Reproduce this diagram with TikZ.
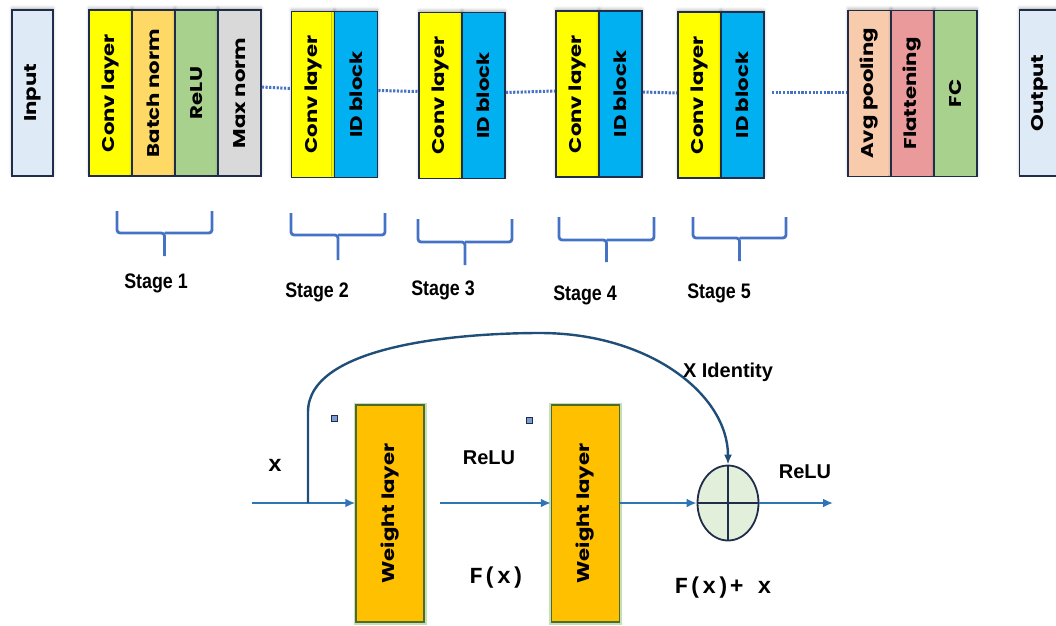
\documentclass[tikz,border=0pt]{standalone}
\usepackage{fontspec}
\usetikzlibrary{arrows.meta,shapes.geometric,shadows.blur,calc}

\newfontfamily\boxfont[FakeStretch=1.25]{Poppins}
\newfontfamily\labelfont{Liberation Sans}
\newfontfamily\narrowfont[FakeStretch=0.85]{Liberation Sans}
\newfontfamily\codefont{Liberation Mono}

\definecolor{inbox}{HTML}{DEEBF7}
\definecolor{convY}{HTML}{FFFF00}
\definecolor{bnorm}{HTML}{FFD966}
\definecolor{reluG}{HTML}{A9D18E}
\definecolor{maxn}{HTML}{D9D9D9}
\definecolor{idb}{HTML}{00B0F0}
\definecolor{avgp}{HTML}{F8CBAD}
\definecolor{flat}{HTML}{EA9A9A}
\definecolor{edge}{HTML}{1F2D4A}
\definecolor{wlayer}{HTML}{FFC000}
\definecolor{wedge}{HTML}{4E6B2E}
\definecolor{wglow}{HTML}{C5E0B4}
\definecolor{arrowblue}{HTML}{2E75B6}
\definecolor{curveblue}{HTML}{1F4E79}
\definecolor{braceblue}{HTML}{4472C4}
\definecolor{sumfill}{HTML}{E2EFDA}

\tikzset{
  layer/.style={draw=edge, line width=1.6pt, rotate=90,
    minimum width=166pt, minimum height=43pt, inner sep=0pt,
    font=\boxfont\bfseries\fontsize{17}{17}\selectfont,
    blur shadow={shadow xshift=0pt, shadow yshift=2pt,
      shadow blur radius=3pt, shadow opacity=30}},
  endbox/.style={layer, minimum height=41pt},
  weight/.style={fill=wlayer, draw=wedge, line width=1.5pt, rotate=90,
    minimum width=217pt, minimum height=68pt, inner sep=0pt,
    preaction={draw=wglow, line width=5pt},
    font=\boxfont\bfseries\fontsize{17}{17}\selectfont},
  stagelabel/.style={font=\narrowfont\bfseries\fontsize{21}{21}\selectfont},
  plainlabel/.style={font=\labelfont\bfseries\fontsize{20}{20}\selectfont},
  codelabel/.style={font=\codefont\bfseries\fontsize{23}{23}\selectfont},
  link/.style={braceblue, line width=3pt, dash pattern=on 2.2pt off 1.5pt},
  stagebrace/.style={braceblue, line width=2.8pt, rounded corners=3pt},
  flow/.style={arrowblue, line width=2.6pt, -{Latex[length=10pt,width=9pt]}},
  skip/.style={curveblue, line width=2.4pt, -{Latex[length=10pt,width=8pt]}},
  marker/.style={draw=edge, fill=braceblue!70, minimum size=6pt, inner sep=0pt, line width=1pt},
}

\begin{document}
\begin{tikzpicture}[x=1pt,y=-1pt]
\useasboundingbox (0,0) rectangle (1056,625);

% ---- network pipeline ----
\node[endbox, fill=inbox] (input) at (32.5,93) {Input};

\node[layer, fill=convY] (conv1) at (110.5,93) {Conv layer};
\node[layer, fill=bnorm] (bn1)   at (153.5,93) {Batch norm};
\node[layer, fill=reluG] (relu1) at (196.5,93) {ReLU};
\node[layer, fill=maxn]  (max1)  at (239.5,93) {Max norm};

\node[layer, fill=convY] (conv2) at (313,94.5) {Conv layer};
\node[layer, fill=idb]   (id2)   at (356,94.5) {ID block};

\node[layer, fill=convY] (conv3) at (440.5,95.5) {Conv layer};
\node[layer, fill=idb]   (id3)   at (483.5,95.5) {ID block};

\node[layer, fill=convY] (conv4) at (577.5,94) {Conv layer};
\node[layer, fill=idb]   (id4)   at (620.5,94) {ID block};

\node[layer, fill=convY] (conv5) at (699.5,95) {Conv layer};
\node[layer, fill=idb]   (id5)   at (742.5,95) {ID block};

\node[layer, fill=avgp]  (avg)   at (869.5,93.5) {Avg pooling};
\node[layer, fill=flat]  (flat)  at (912.5,93.5) {Flattening};
\node[layer, fill=reluG] (fc)    at (955.5,93.5) {FC};

\node[endbox, fill=inbox] (output) at (1040,93) {Output};

% dotted links between stages (south = right side, north = left side)
\draw[link] ([yshift=6pt]max1.south) -- ([yshift=6pt]conv2.north);
\draw[link] ([yshift=4pt]id2.south)  -- ([yshift=4pt]conv3.north);
\draw[link] ([yshift=3pt]id3.south)  -- ([yshift=3pt]conv4.north);
\draw[link] ([yshift=2pt]id4.south)  -- ([yshift=2pt]conv5.north);
\draw[link] ([yshift=3pt,xshift=7pt]id5.south) -- ([yshift=1.5pt]avg.north);

% stage braces
\foreach \l/\r/\t/\h/\b in {117/212/211/233/256, 291/385/213/235/260,
    418/512/219/242/265, 559/654/217/240/262, 693/786/217/238/261}{
  \draw[stagebrace] (\l,\t) -- (\l,\h) -- ({(\l+\r)/2},\h) -- ({(\l+\r)/2},\b);
  \draw[stagebrace] (\r,\t) -- (\r,\h) -- ({(\l+\r)/2},\h);
}
\node[stagelabel] (s1) at (156,283) {Stage 1};
\node[stagelabel] (s2) at (317,292) {Stage 2};
\node[stagelabel] (s3) at (443,290) {Stage 3};
\node[stagelabel] (s4) at (585,295) {Stage 4};
\node[stagelabel] (s5) at (719,293) {Stage 5};

% ---- residual block ----
\coordinate (in) at (252,503);
\coordinate (br) at (308,503);
\coordinate (out) at (833,503);

\node[weight] (w1) at (390,513.5) {Weight layer};
\node[weight] (w2) at (585.5,513.5) {Weight layer};
\node[ellipse, draw=edge, fill=sumfill, line width=1.8pt,
      minimum width=61pt, minimum height=75pt, inner sep=0pt] (sum) at (728,503) {};
\draw[edge, line width=1.8pt] (sum.north) -- (sum.south) (sum.west) -- (sum.east);

\node[marker] (m1) at (334,418) {};
\node[marker] (m2) at (529,420) {};

\draw[flow] (in) -- (w1.north |- in);
\draw[flow] ($(w1.south |- in)+(15,0)$) -- (w2.north |- in);
\draw[flow] (w2.south |- in) -- (sum.west);
\draw[flow] (sum.east) -- (out);
\draw[skip] (br) -- (308,412) .. controls (308,345) and (460,333) .. (540,333)
            .. controls (650,333) and (728,395) .. (sum.north);

\node[codelabel] (xl) at (275,465) {x};
\node[plainlabel] (r1) at (489,458) {ReLU};
\node[codelabel] (fx) at (497,578) {F(x)};
\node[plainlabel] (xid) at (728,372) {X Identity};
\node[plainlabel] (r2) at (805,472) {ReLU};
\node[codelabel] (fxx) at (723,588) {F(x)+ x};
\end{tikzpicture}
\end{document}
